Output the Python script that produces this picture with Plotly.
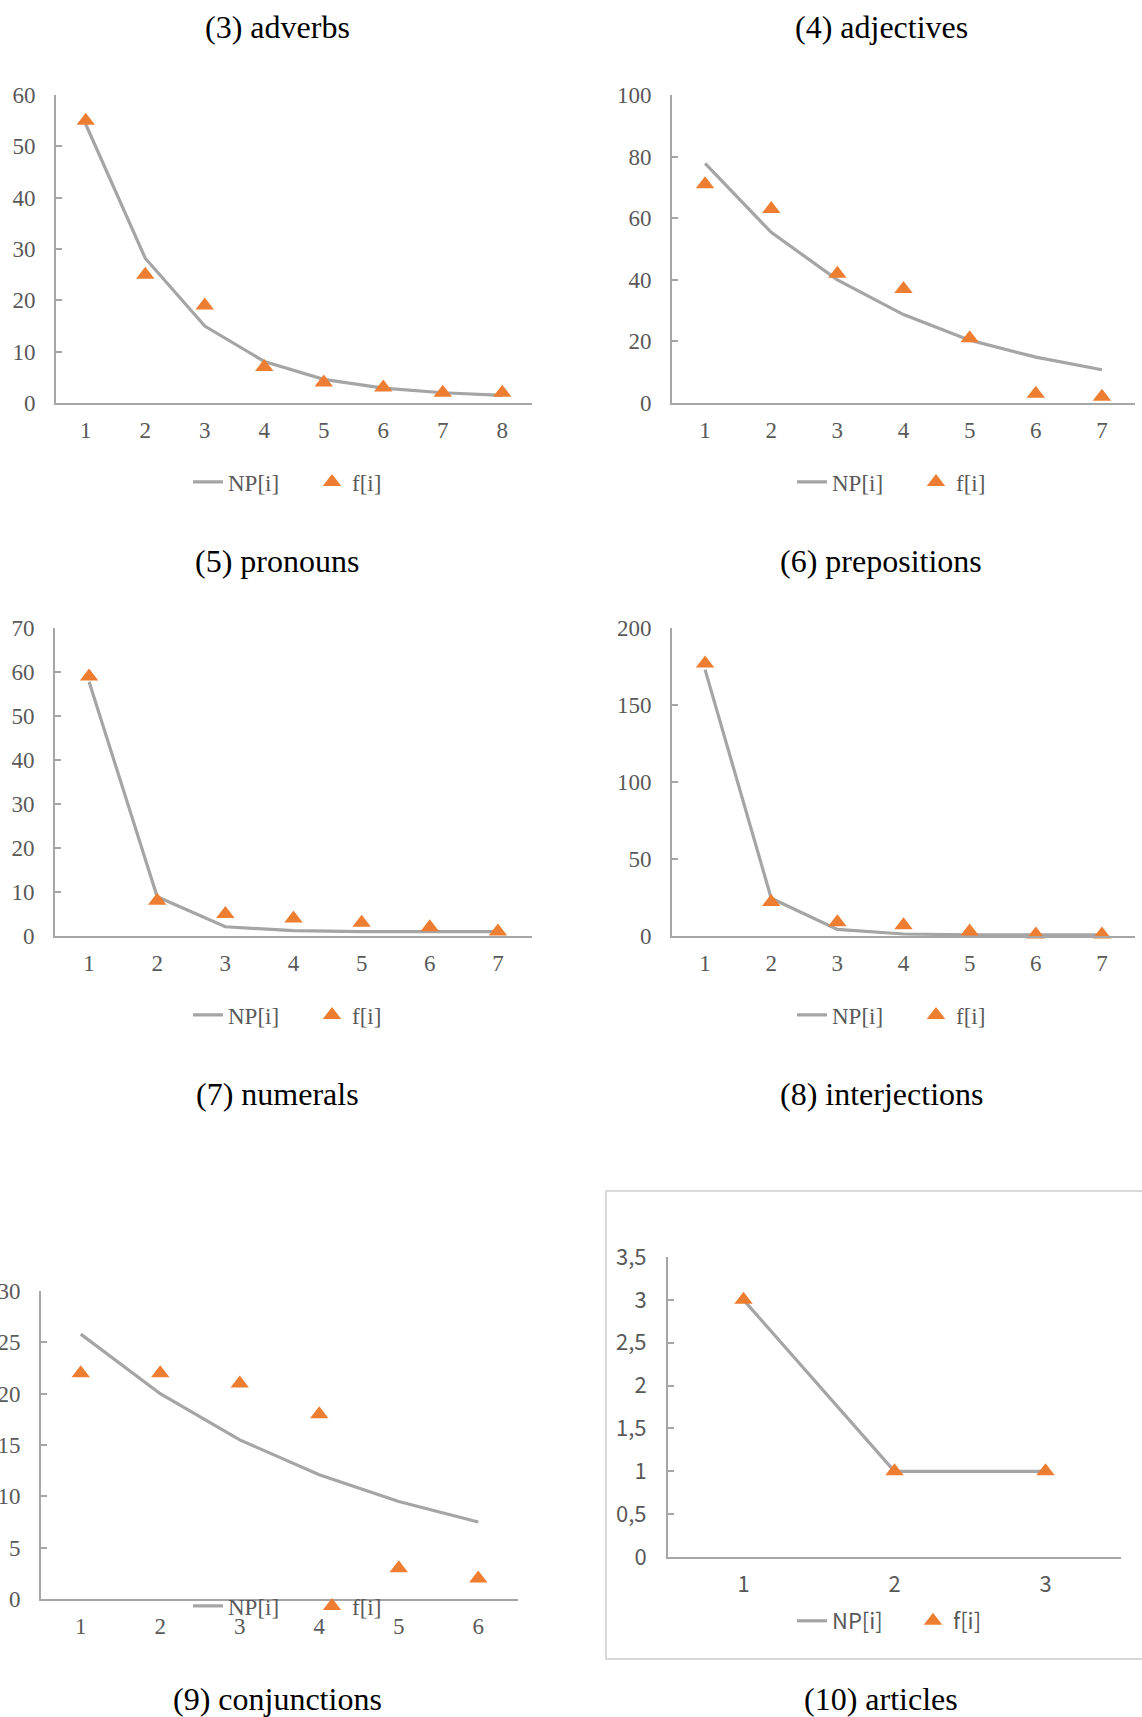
import plotly.graph_objects as go

W, H = 1142, 1717

# ---------------- data ----------------
titles = ["(3) adverbs", "(4) adjectives", "(5) pronouns", "(6) prepositions",
          "(9) conjunctions", "(10) articles"]

adverbs_rank = [1, 2, 3, 4, 5, 6, 7, 8]
adverbs_np = [54.3, 28.2, 15.0, 8.1, 4.6, 2.9, 2.0, 1.5]
adverbs_f = [55, 25, 19, 7, 4, 3, 2, 2]

adjectives_rank = [1, 2, 3, 4, 5, 6, 7]
adjectives_np = [77.8, 55.4, 40.0, 28.7, 20.4, 14.9, 10.8]
adjectives_f = [71, 63, 42, 37, 21, 3, 2]

pronouns_rank = [1, 2, 3, 4, 5, 6, 7]
pronouns_np = [57.8, 8.9, 2.1, 1.2, 1.0, 1.0, 1.0]
pronouns_f = [59, 8, 5, 4, 3, 2, 1]

prepositions_rank = [1, 2, 3, 4, 5, 6, 7]
prepositions_np = [173, 24.5, 4.3, 1.3, 0.8, 0.7, 0.7]
prepositions_f = [177, 22, 9, 7, 3, 1, 1]

conjunctions_rank = [1, 2, 3, 4, 5, 6]
conjunctions_np = [25.8, 20.0, 15.5, 12.1, 9.5, 7.5]
conjunctions_f = [22, 22, 21, 18, 3, 2]

articles_rank = [1, 2, 3]
articles_np = [3, 1, 1]
articles_f = [3, 1, 1]

y_max = [60, 100, 70, 200, 30, 3.5]
y_step = [10, 20, 10, 50, 5, 0.5]
articles_ytick_vals = [0, 0.5, 1, 1.5, 2, 2.5, 3, 3.5]
articles_ytick_text = ["0", "0,5", "1", "1,5", "2", "2,5", "3", "3,5"]

series = [
    (adverbs_rank, adverbs_np, adverbs_f),
    (adjectives_rank, adjectives_np, adjectives_f),
    (pronouns_rank, pronouns_np, pronouns_f),
    (prepositions_rank, prepositions_np, prepositions_f),
    (conjunctions_rank, conjunctions_np, conjunctions_f),
    (articles_rank, articles_np, articles_f),
]

# ---------------- layout (pixels) ----------------
# plot area: left, right, top, bottom
boxes = [
    (56, 532, 95, 403),
    (672, 1135, 95, 403),
    (55, 532, 628, 936),
    (672, 1135, 628, 936),
    (41, 518, 1291, 1599),
    (668, 1121, 1257, 1557),
]
title_pos = [(277, 27), (881, 27), (277, 561), (881, 561), (277, 1699), (881, 1699)]
extra_titles = [("(7) numerals", 277, 1094), ("(8) interjections", 881, 1094)]
legend_pos = [(188, 482), (792, 482), (188, 1015), (792, 1015), (188, 1606), (792, 1621)]

SERIF = "Liberation Serif"
SANS = "Noto Sans CJK SC"
GRAY_TXT = "#595959"
AXIS_COL = "#a6a6a6"
LINE_COL = "#a5a5a5"
ORANGE = "#ed7d31"


def px_x(a):
    return a / W


def px_y(a):
    return 1 - a / H


fig = go.Figure()
layout = dict(
    width=W, height=H,
    margin=dict(l=0, r=0, t=0, b=0, pad=0, autoexpand=False),
    paper_bgcolor="white", plot_bgcolor="white",
    showlegend=True,
    annotations=[], shapes=[],
)

for i, ((rank, npv, fv), box) in enumerate(zip(series, boxes)):
    k = i + 1
    sfx = "" if k == 1 else str(k)
    lg = "legend" + sfx
    font_family = SANS if k == 6 else SERIF
    fsize = 22 if k == 6 else 23

    fig.add_trace(go.Scatter(
        x=rank, y=npv, mode="lines", name="NP[i]",
        line=dict(color=LINE_COL, width=3.2),
        xaxis="x" + sfx, yaxis="y" + sfx, legend=lg, cliponaxis=False,
    ))
    fig.add_trace(go.Scatter(
        x=rank, y=fv, mode="markers", name="f[i]",
        marker=dict(symbol="triangle-up", color=ORANGE, size=16, line=dict(width=0)),
        xaxis="x" + sfx, yaxis="y" + sfx, legend=lg, cliponaxis=False,
    ))

    l, r, t, b = box
    n = len(rank)
    xa = dict(
        domain=[px_x(l), px_x(r)], anchor="y" + sfx,
        range=[0.5, n + 0.5], tickmode="array", tickvals=rank,
        ticktext=[str(v) for v in rank],
        showgrid=False, zeroline=False, showline=True,
        linecolor=AXIS_COL, linewidth=2, ticks="",
        tickfont=dict(family=font_family, size=fsize, color=GRAY_TXT),
        ticklabelstandoff=(7 if k == 6 else 5), fixedrange=True,
    )
    ya = dict(
        domain=[px_y(b), px_y(t)], anchor="x" + sfx,
        range=[0, y_max[i]], showgrid=False, zeroline=False, showline=True,
        linecolor=AXIS_COL, linewidth=2, ticks="inside", ticklen=6,
        tickcolor=AXIS_COL, tickwidth=1.5,
        tickfont=dict(family=font_family, size=fsize, color=GRAY_TXT),
        ticklabelstandoff=(15 if k == 6 else 14), fixedrange=True,
    )
    if k == 6:
        ya.update(tickmode="array", tickvals=articles_ytick_vals, ticktext=articles_ytick_text)
    else:
        ya.update(tickmode="linear", tick0=0, dtick=y_step[i])
    layout["xaxis" + sfx] = xa
    layout["yaxis" + sfx] = ya

    lx, ly = legend_pos[i]
    layout[lg] = dict(
        orientation="h", x=px_x(lx), y=px_y(ly), xanchor="left", yanchor="middle",
        xref="paper", yref="paper",
        font=dict(family=font_family, size=fsize, color=GRAY_TXT),
        bgcolor="rgba(0,0,0,0)", entrywidth=(76 if k == 6 else 79), entrywidthmode="pixels",
        itemclick=False, itemdoubleclick=False,
    )

    tx, ty = title_pos[i]
    layout["annotations"].append(dict(
        text=titles[i], x=px_x(tx), y=px_y(ty), xref="paper", yref="paper",
        xanchor="center", yanchor="middle", showarrow=False,
        font=dict(family=SERIF, size=32, color="black"),
    ))

for txt, tx, ty in extra_titles:
    layout["annotations"].append(dict(
        text=txt, x=px_x(tx), y=px_y(ty), xref="paper", yref="paper",
        xanchor="center", yanchor="middle", showarrow=False,
        font=dict(family=SERIF, size=32, color="black"),
    ))

# frame around the articles chart
layout["shapes"].append(dict(
    type="rect", xref="paper", yref="paper",
    x0=px_x(606), x1=px_x(1150), y0=px_y(1659), y1=px_y(1191),
    line=dict(color="#d9d9d9", width=2), fillcolor="rgba(0,0,0,0)", layer="below",
))

fig.update_layout(**layout)
fig.write_html(
    "out.html",
    config={"displayModeBar": False},
    post_script="document.body.style.margin='0px';document.body.style.overflow='hidden';",
)
